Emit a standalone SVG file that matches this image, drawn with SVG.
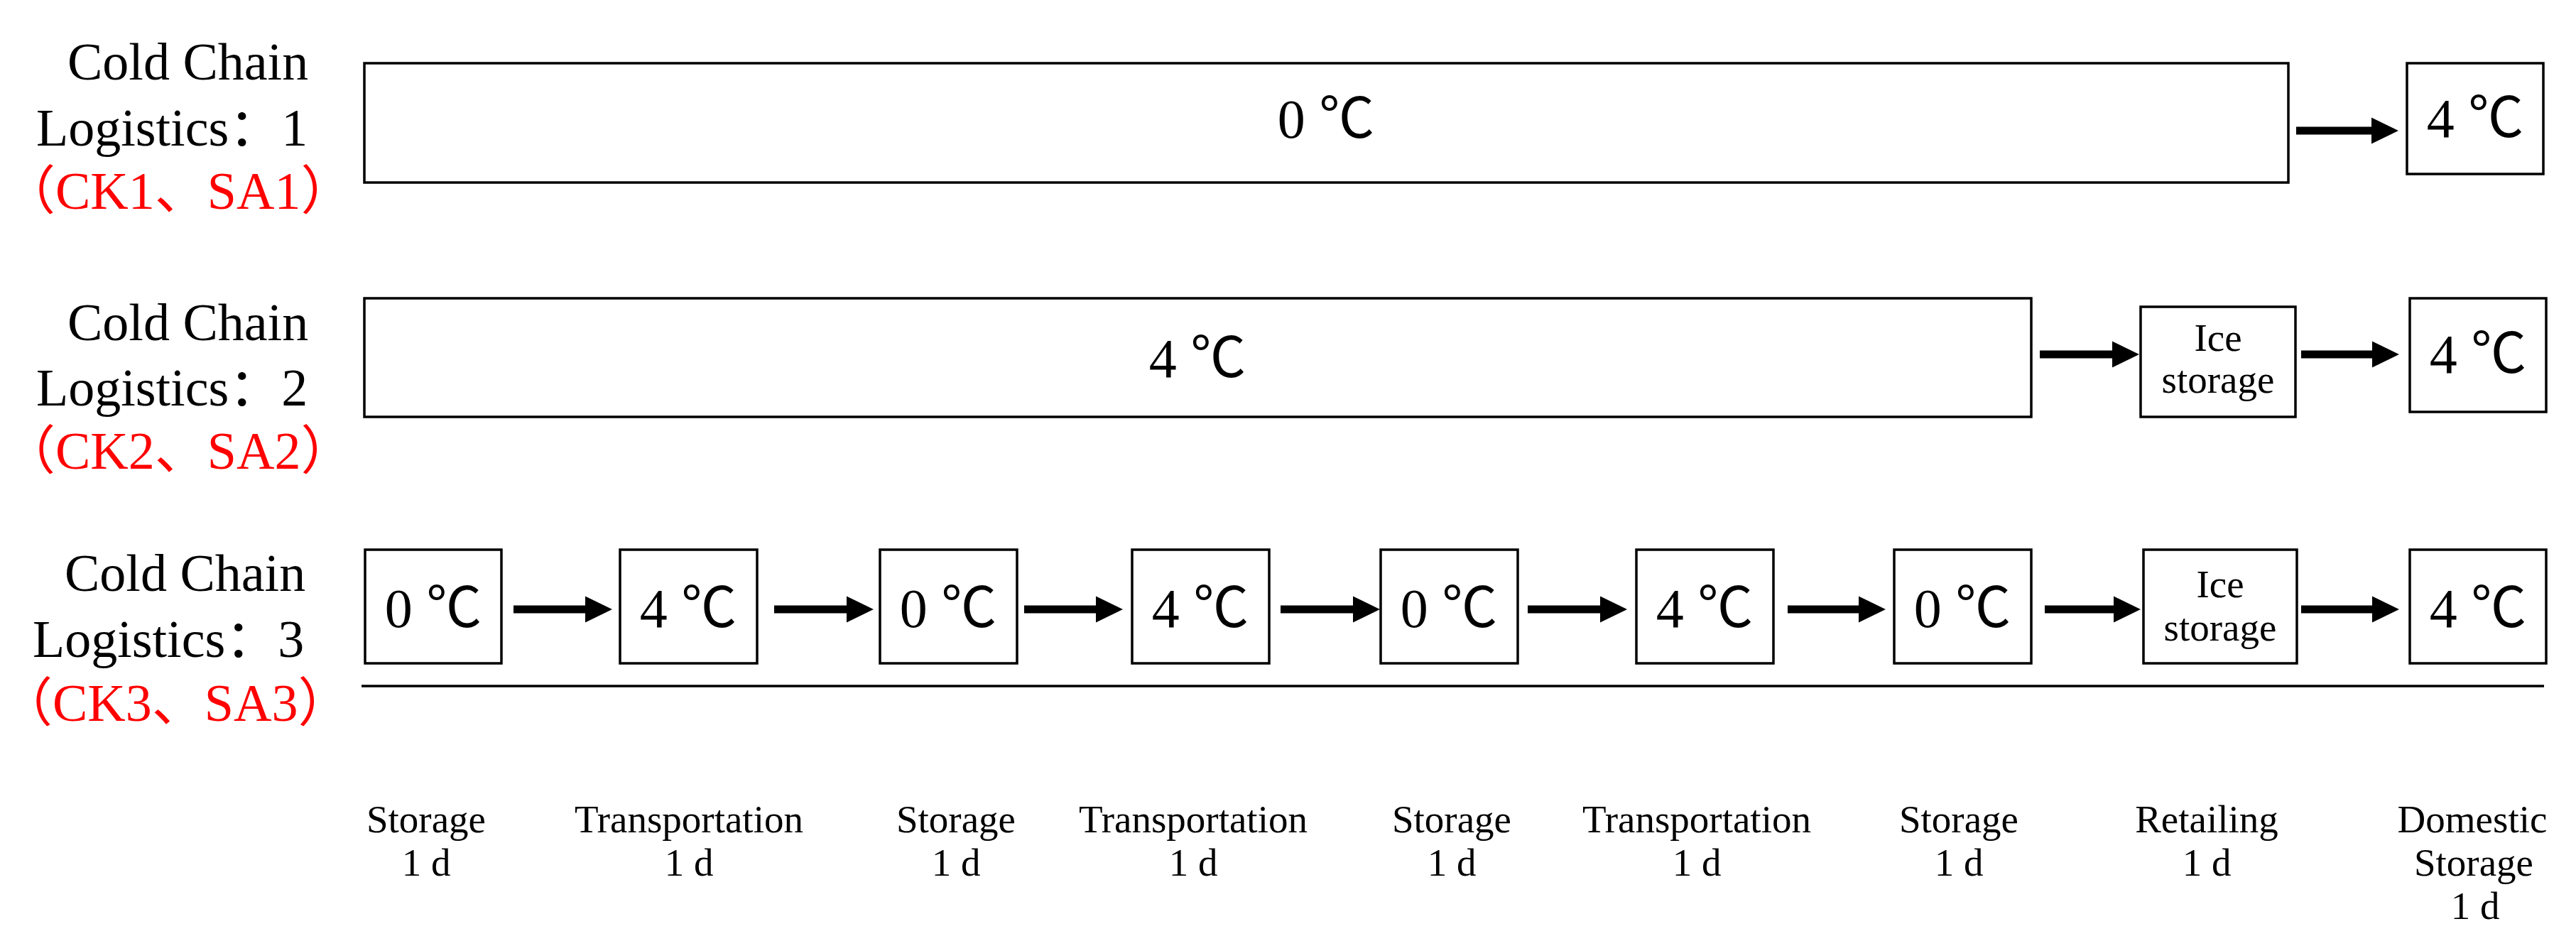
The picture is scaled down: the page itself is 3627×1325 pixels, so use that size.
<svg xmlns="http://www.w3.org/2000/svg" width="3627" height="1325" viewBox="0 0 3627 1325">
<defs>
<style>
.box{fill:#fff;stroke:#000;stroke-width:3.5}
.t{font-family:"Liberation Serif","Noto Sans CJK SC",serif;fill:#000}
.lab{font-size:74px}
.red{fill:#ff0000}
.temp{font-size:78px;text-anchor:middle}
.sm{font-size:55px;text-anchor:middle}
.arr{stroke:#000;stroke-width:11;fill:none;marker-end:url(#ah)}
</style>
<marker id="ah" markerUnits="userSpaceOnUse" markerWidth="40" markerHeight="40" refX="8" refY="18.5" orient="auto" overflow="visible">
<path d="M0,0 L38,18.5 L0,37 Z" fill="#000"/>
</marker>
</defs>
<rect width="3627" height="1325" fill="#fff"/>

<g id="labels-left">
<g id="label-row1" class="t lab">
<text x="95" y="112">Cold Chain</text>
<text x="51" y="205">Logistics：1</text>
<text x="4" y="294" class="red">（CK1、SA1）</text>
</g>
<g id="label-row2" class="t lab">
<text x="95" y="479">Cold Chain</text>
<text x="51" y="571">Logistics：2</text>
<text x="4" y="660" class="red">（CK2、SA2）</text>
</g>
<g id="label-row3" class="t lab">
<text x="91" y="832">Cold Chain</text>
<text x="46" y="925">Logistics：3</text>
<text x="0" y="1015" class="red">（CK3、SA3）</text>
</g>
</g>

<g id="row1-main"><rect class="box" x="513" y="89" width="2709" height="168"/><text class="t temp" x="1867" y="194">0 ℃</text></g>
<g id="row1-home"><rect class="box" x="3389" y="89" width="192" height="156"/><text class="t temp" x="3485" y="193">4 ℃</text></g>

<g id="row2-main"><rect class="box" x="513" y="420" width="2347" height="167"/><text class="t temp" x="1686" y="531">4 ℃</text></g>
<g id="row2-ice"><rect class="box" x="3014" y="432" width="218" height="155"/><text class="t sm" x="3123" y="494">Ice</text><text class="t sm" x="3123" y="553">storage</text></g>
<g id="row2-home"><rect class="box" x="3393" y="420" width="192" height="160"/><text class="t temp" x="3489" y="525">4 ℃</text></g>

<g id="row3-s1"><rect class="box" x="514" y="774" width="192" height="160"/><text class="t temp" x="610" y="883">0 ℃</text></g>
<g id="row3-t1"><rect class="box" x="873" y="774" width="193" height="160"/><text class="t temp" x="969" y="883">4 ℃</text></g>
<g id="row3-s2"><rect class="box" x="1239" y="774" width="193" height="160"/><text class="t temp" x="1335" y="883">0 ℃</text></g>
<g id="row3-t2"><rect class="box" x="1594" y="774" width="193" height="160"/><text class="t temp" x="1690" y="883">4 ℃</text></g>
<g id="row3-s3"><rect class="box" x="1944" y="774" width="193" height="160"/><text class="t temp" x="2040" y="883">0 ℃</text></g>
<g id="row3-t3"><rect class="box" x="2304" y="774" width="193" height="160"/><text class="t temp" x="2400" y="883">4 ℃</text></g>
<g id="row3-s4"><rect class="box" x="2667" y="774" width="193" height="160"/><text class="t temp" x="2763" y="883">0 ℃</text></g>
<g id="row3-ice"><rect class="box" x="3018" y="774" width="216" height="160"/><text class="t sm" x="3126" y="841">Ice</text><text class="t sm" x="3126" y="902">storage</text></g>
<g id="row3-home"><rect class="box" x="3393" y="774" width="192" height="160"/><text class="t temp" x="3489" y="883">4 ℃</text></g>

<g id="connectors">
<line class="arr" x1="3233" y1="184" x2="3347" y2="184"/>
<line class="arr" x1="2872" y1="499" x2="2982" y2="499"/>
<line class="arr" x1="3240" y1="499" x2="3348" y2="499"/>
<line class="arr" x1="723" y1="858" x2="832" y2="858"/>
<line class="arr" x1="1090" y1="858" x2="1200" y2="858"/>
<line class="arr" x1="1442" y1="858" x2="1551" y2="858"/>
<line class="arr" x1="1803" y1="858" x2="1913" y2="858"/>
<line class="arr" x1="2151" y1="858" x2="2261" y2="858"/>
<line class="arr" x1="2517" y1="858" x2="2625" y2="858"/>
<line class="arr" x1="2879" y1="858" x2="2984" y2="858"/>
<line class="arr" x1="3240" y1="858" x2="3348" y2="858"/>
</g>

<g id="timeline"><line x1="509" y1="966" x2="3582" y2="966" stroke="#000" stroke-width="3.5"/></g>

<g id="stage-labels" class="t sm">
<text x="600" y="1172">Storage</text><text x="600" y="1233">1 d</text>
<text x="970" y="1172">Transportation</text><text x="970" y="1233">1 d</text>
<text x="1346" y="1172">Storage</text><text x="1346" y="1233">1 d</text>
<text x="1680" y="1172">Transportation</text><text x="1680" y="1233">1 d</text>
<text x="2044" y="1172">Storage</text><text x="2044" y="1233">1 d</text>
<text x="2389" y="1172">Transportation</text><text x="2389" y="1233">1 d</text>
<text x="2758" y="1172">Storage</text><text x="2758" y="1233">1 d</text>
<text x="3107" y="1172">Retailing</text><text x="3107" y="1233">1 d</text>
<text x="3481" y="1172">Domestic</text><text x="3483" y="1233">Storage</text><text x="3485" y="1294">1 d</text>
</g>
</svg>
